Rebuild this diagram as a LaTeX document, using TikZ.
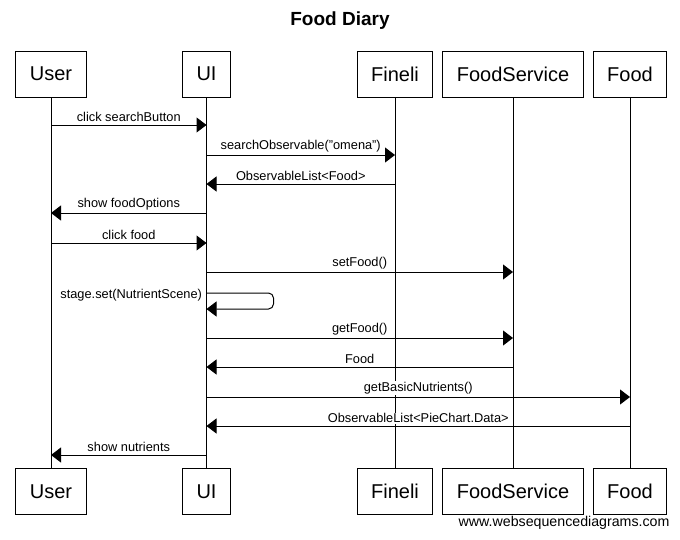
\documentclass[tikz,border=0pt]{standalone}
\usepackage{fontspec}
\setmainfont{Liberation Sans}
\usetikzlibrary{arrows.meta,positioning,calc}

\tikzset{
  party/.style={draw,line width=1pt,fill=white,inner xsep=14pt,minimum height=46pt,font=\fontsize{20}{24}\selectfont},
  msg/.style={line width=1pt,-{Triangle[length=10pt,width=15pt]}},
  lbl/.style={fill=white,inner sep=1pt,font=\fontsize{12.8}{15}\selectfont}
}

\begin{document}
\begin{tikzpicture}[x=1pt,y=-1pt]
	\useasboundingbox (0,0) rectangle (680,539);
	\node[font=\fontsize{19}{22}\selectfont\bfseries] (title) at (340,21) {Food Diary};
	\foreach \n/\x/\t in {user/51/User, ui/206.5/UI, fineli/395/Fineli, service/513/FoodService, food/630/Food} {
		\node[party] (\n t) at (\x,74) {\t};
		\node[party] (\n b) at (\x,491.5) {\t};
		\draw[line width=1pt] (\n t) -- (\n b);
	}
	\draw[msg] (usert |- 0,125) -- (uit |- 0,125) node[lbl,midway,above=1.5pt] {click searchButton};
	\draw[msg] (uit |- 0,155) -- (finelit |- 0,155) node[lbl,midway,above=1.5pt] {searchObservable("omena")};
	\draw[msg] (finelit |- 0,184) -- (uit |- 0,184) node[lbl,midway,above=1.5pt] {ObservableList<Food>};
	\draw[msg] (uit |- 0,213) -- (usert |- 0,213) node[lbl,midway,above=1.5pt] {show foodOptions};
	\draw[msg] (usert |- 0,243) -- (uit |- 0,243) node[lbl,midway,above=1.5pt] {click food};
	\draw[msg] (uit |- 0,272) -- (servicet |- 0,272) node[lbl,midway,above=1.5pt] {setFood()};
	\draw[msg,rounded corners=5pt] (uit |- 0,293) node[lbl,anchor=east,xshift=-3pt,yshift=-2pt] {stage.set(NutrientScene)}
		-- ++(67,0) -- ++(0,16) -- (uit |- 0,309);
	\draw[msg] (uit |- 0,338) -- (servicet |- 0,338) node[lbl,midway,above=1.5pt] {getFood()};
	\draw[msg] (servicet |- 0,367) -- (uit |- 0,367) node[lbl,midway,above=1.5pt] {Food};
	\draw[msg] (uit |- 0,397) -- (foodt |- 0,397) node[lbl,midway,above=1.5pt] {getBasicNutrients()};
	\draw[msg] (foodt |- 0,426) -- (uit |- 0,426) node[lbl,midway,above=1.5pt] {ObservableList<PieChart.Data>};
	\draw[msg] (uit |- 0,455) -- (usert |- 0,455) node[lbl,midway,above=1.5pt] {show nutrients};
	\node[anchor=east,font=\fontsize{14.2}{17}\selectfont] (site) at (673,523) {www.websequencediagrams.com};
\end{tikzpicture}
\end{document}
